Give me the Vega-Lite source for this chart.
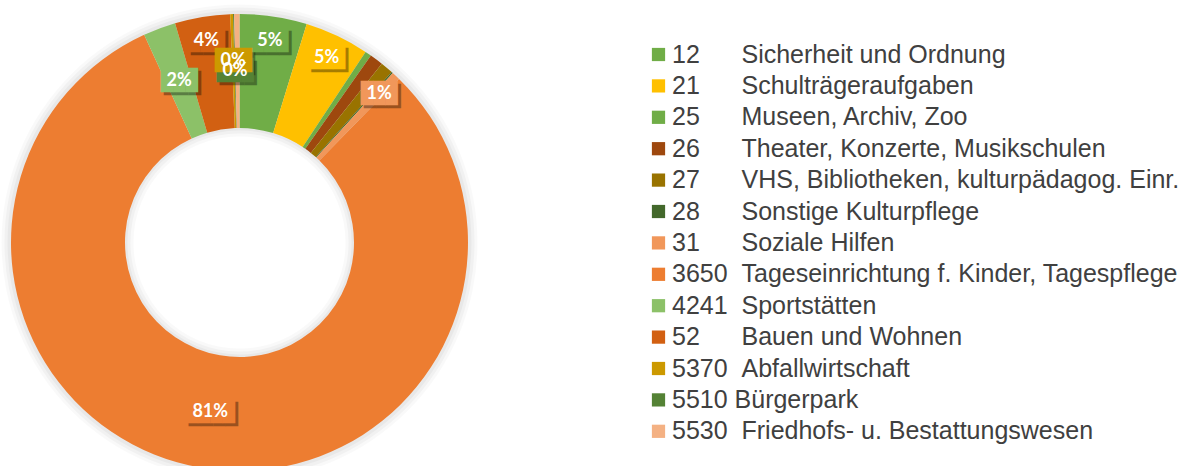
{
  "$schema": "https://vega.github.io/schema/vega-lite/v6.json",
  "width": 479,
  "height": 485,
  "padding": 0,
  "background": "white",
  "config": {"view": {"stroke": null}},
  "datasets": {
    "slices": [
      {"code": "12", "cat": "12\u00a0\u00a0\u00a0\u00a0\u00a0\u00a0Sicherheit und Ordnung", "v": 4.75, "lab": "5%"},
      {"code": "21", "cat": "21\u00a0\u00a0\u00a0\u00a0\u00a0\u00a0Schulträgeraufgaben", "v": 4.55, "lab": "5%"},
      {"code": "25", "cat": "25\u00a0\u00a0\u00a0\u00a0\u00a0\u00a0Museen, Archiv, Zoo", "v": 0.45, "lab": "0%"},
      {"code": "26", "cat": "26\u00a0\u00a0\u00a0\u00a0\u00a0\u00a0Theater, Konzerte, Musikschulen", "v": 0.95, "lab": "1%"},
      {"code": "27", "cat": "27\u00a0\u00a0\u00a0\u00a0\u00a0\u00a0VHS, Bibliotheken, kulturpädagog. Einr.", "v": 0.9, "lab": "1%"},
      {"code": "28", "cat": "28\u00a0\u00a0\u00a0\u00a0\u00a0\u00a0Sonstige Kulturpflege", "v": 0.1, "lab": "0%"},
      {"code": "31", "cat": "31\u00a0\u00a0\u00a0\u00a0\u00a0\u00a0Soziale Hilfen", "v": 0.6, "lab": "1%"},
      {"code": "3650", "cat": "3650\u00a0\u00a0Tageseinrichtung f. Kinder, Tagespflege", "v": 80.85, "lab": "81%"},
      {"code": "4241", "cat": "4241\u00a0\u00a0Sportstätten", "v": 2.3, "lab": "2%"},
      {"code": "52", "cat": "52\u00a0\u00a0\u00a0\u00a0\u00a0\u00a0Bauen und Wohnen", "v": 3.9, "lab": "4%"},
      {"code": "5370", "cat": "5370\u00a0\u00a0Abfallwirtschaft", "v": 0.2, "lab": "0%"},
      {"code": "5510", "cat": "5510\u00a0Bürgerpark", "v": 0.07, "lab": "0%"},
      {"code": "5530", "cat": "5530\u00a0\u00a0Friedhofs- u. Bestattungswesen", "v": 0.38, "lab": "0%"}
    ],
    "whole": [{"v": 100}]
  },
  "layer": [
    {
      "data": {"name": "whole"},
      "mark": {"type": "arc", "outerRadius": 238, "innerRadius": 106, "fill": "#000", "opacity": 0.025},
      "encoding": {"theta": {"field": "v", "type": "quantitative"}}
    },
    {
      "data": {"name": "whole"},
      "mark": {"type": "arc", "outerRadius": 235, "innerRadius": 109, "fill": "#000", "opacity": 0.03},
      "encoding": {"theta": {"field": "v", "type": "quantitative"}}
    },
    {
      "data": {"name": "whole"},
      "mark": {"type": "arc", "outerRadius": 232, "innerRadius": 112, "fill": "#000", "opacity": 0.035},
      "encoding": {"theta": {"field": "v", "type": "quantitative"}}
    },
    {
      "data": {"name": "slices"},
      "mark": {"type": "arc", "outerRadius": 228.5, "innerRadius": 114.5},
      "encoding": {
        "theta": {"field": "v", "type": "quantitative", "stack": true},
        "order": {"field": "cat", "type": "ordinal", "sort": "ascending"},
        "color": {
          "field": "cat",
          "type": "nominal",
          "scale": {
            "range": ["#70AD47", "#FFC000", "#70AD47", "#9E480E", "#997300", "#43682B", "#F1975A", "#ED7D31", "#8CC168", "#D26012", "#CC9900", "#548235", "#F4B183"]
          },
          "legend": {
            "orient": "none",
            "legendX": 646,
            "legendY": 42,
            "title": null,
            "padding": 0,
            "symbolType": "square",
            "symbolSize": 175,
            "symbolStrokeWidth": 0,
            "labelFont": "Liberation Sans",
            "labelFontSize": 25,
            "labelColor": "#404040",
            "labelOffset": 1,
            "labelLimit": 700,
            "rowPadding": 5.4
          }
        }
      }
    },
    {
      "data": {"name": "slices"},
      "transform": [{"calculate": "length(datum.lab) > 2 ? '████' : '███'", "as": "box"}],
      "mark": {"type": "text", "radius": 204, "font": "DejaVu Sans Mono", "fontSize": 20.5, "align": "center", "baseline": "middle", "fill": "#000", "opacity": 0.35, "dx": 3, "dy": 3},
      "encoding": {
        "theta": {"field": "v", "type": "quantitative", "stack": true},
        "order": {"field": "cat", "type": "ordinal", "sort": "ascending"},
        "detail": {"field": "cat", "type": "nominal"},
        "text": {"condition": {"test": "indexof(['12','21','31','52'], datum.code) >= 0", "field": "box"}, "value": ""}
      }
    },
    {
      "data": {"name": "slices"},
      "transform": [{"calculate": "length(datum.lab) > 2 ? '████' : '███'", "as": "box"}],
      "mark": {"type": "text", "radius": 172, "font": "DejaVu Sans Mono", "fontSize": 20.5, "align": "center", "baseline": "middle", "fill": "#000", "opacity": 0.35, "dx": 3, "dy": 3},
      "encoding": {
        "theta": {"field": "v", "type": "quantitative", "stack": true},
        "order": {"field": "cat", "type": "ordinal", "sort": "ascending"},
        "detail": {"field": "cat", "type": "nominal"},
        "text": {"condition": {"test": "indexof(['3650','4241','5510'], datum.code) >= 0", "field": "box"}, "value": ""}
      }
    },
    {
      "data": {"name": "slices"},
      "transform": [{"calculate": "length(datum.lab) > 2 ? '████' : '███'", "as": "box"}],
      "mark": {"type": "text", "radius": 182, "font": "DejaVu Sans Mono", "fontSize": 20.5, "align": "center", "baseline": "middle", "fill": "#000", "opacity": 0.35, "dx": 3, "dy": 3},
      "encoding": {
        "theta": {"field": "v", "type": "quantitative", "stack": true},
        "order": {"field": "cat", "type": "ordinal", "sort": "ascending"},
        "detail": {"field": "cat", "type": "nominal"},
        "text": {"condition": {"test": "datum.code == '5370'", "field": "box"}, "value": ""}
      }
    },
    {
      "data": {"name": "slices"},
      "transform": [{"calculate": "length(datum.lab) > 2 ? '████' : '███'", "as": "box"}],
      "mark": {"type": "text", "radius": 204, "font": "DejaVu Sans Mono", "fontSize": 20.5, "align": "center", "baseline": "middle"},
      "encoding": {
        "theta": {"field": "v", "type": "quantitative", "stack": true},
        "order": {"field": "cat", "type": "ordinal", "sort": "ascending"},
        "color": {"field": "cat", "type": "nominal", "legend": null},
        "text": {"condition": {"test": "indexof(['12','21','31','52'], datum.code) >= 0", "field": "box"}, "value": ""}
      }
    },
    {
      "data": {"name": "slices"},
      "transform": [{"calculate": "length(datum.lab) > 2 ? '████' : '███'", "as": "box"}],
      "mark": {"type": "text", "radius": 172, "font": "DejaVu Sans Mono", "fontSize": 20.5, "align": "center", "baseline": "middle"},
      "encoding": {
        "theta": {"field": "v", "type": "quantitative", "stack": true},
        "order": {"field": "cat", "type": "ordinal", "sort": "ascending"},
        "color": {"field": "cat", "type": "nominal", "legend": null},
        "text": {"condition": {"test": "indexof(['3650','4241','5510'], datum.code) >= 0", "field": "box"}, "value": ""}
      }
    },
    {
      "data": {"name": "slices"},
      "transform": [{"calculate": "length(datum.lab) > 2 ? '████' : '███'", "as": "box"}],
      "mark": {"type": "text", "radius": 182, "font": "DejaVu Sans Mono", "fontSize": 20.5, "align": "center", "baseline": "middle"},
      "encoding": {
        "theta": {"field": "v", "type": "quantitative", "stack": true},
        "order": {"field": "cat", "type": "ordinal", "sort": "ascending"},
        "color": {"field": "cat", "type": "nominal", "legend": null},
        "text": {"condition": {"test": "datum.code == '5370'", "field": "box"}, "value": ""}
      }
    },
    {
      "data": {"name": "slices"},
      "mark": {"type": "text", "radius": 204, "font": "Lato", "fontWeight": "bold", "fontSize": 18, "align": "center", "baseline": "middle", "fill": "white"},
      "encoding": {
        "theta": {"field": "v", "type": "quantitative", "stack": true},
        "order": {"field": "cat", "type": "ordinal", "sort": "ascending"},
        "detail": {"field": "cat", "type": "nominal"},
        "text": {"condition": {"test": "indexof(['12','21','31','52'], datum.code) >= 0", "field": "lab"}, "value": ""}
      }
    },
    {
      "data": {"name": "slices"},
      "mark": {"type": "text", "radius": 172, "font": "Lato", "fontWeight": "bold", "fontSize": 18, "align": "center", "baseline": "middle", "fill": "white"},
      "encoding": {
        "theta": {"field": "v", "type": "quantitative", "stack": true},
        "order": {"field": "cat", "type": "ordinal", "sort": "ascending"},
        "detail": {"field": "cat", "type": "nominal"},
        "text": {"condition": {"test": "indexof(['3650','4241','5510'], datum.code) >= 0", "field": "lab"}, "value": ""}
      }
    },
    {
      "data": {"name": "slices"},
      "mark": {"type": "text", "radius": 182, "font": "Lato", "fontWeight": "bold", "fontSize": 18, "align": "center", "baseline": "middle", "fill": "white"},
      "encoding": {
        "theta": {"field": "v", "type": "quantitative", "stack": true},
        "order": {"field": "cat", "type": "ordinal", "sort": "ascending"},
        "detail": {"field": "cat", "type": "nominal"},
        "text": {"condition": {"test": "datum.code == '5370'", "field": "lab"}, "value": ""}
      }
    }
  ]
}
